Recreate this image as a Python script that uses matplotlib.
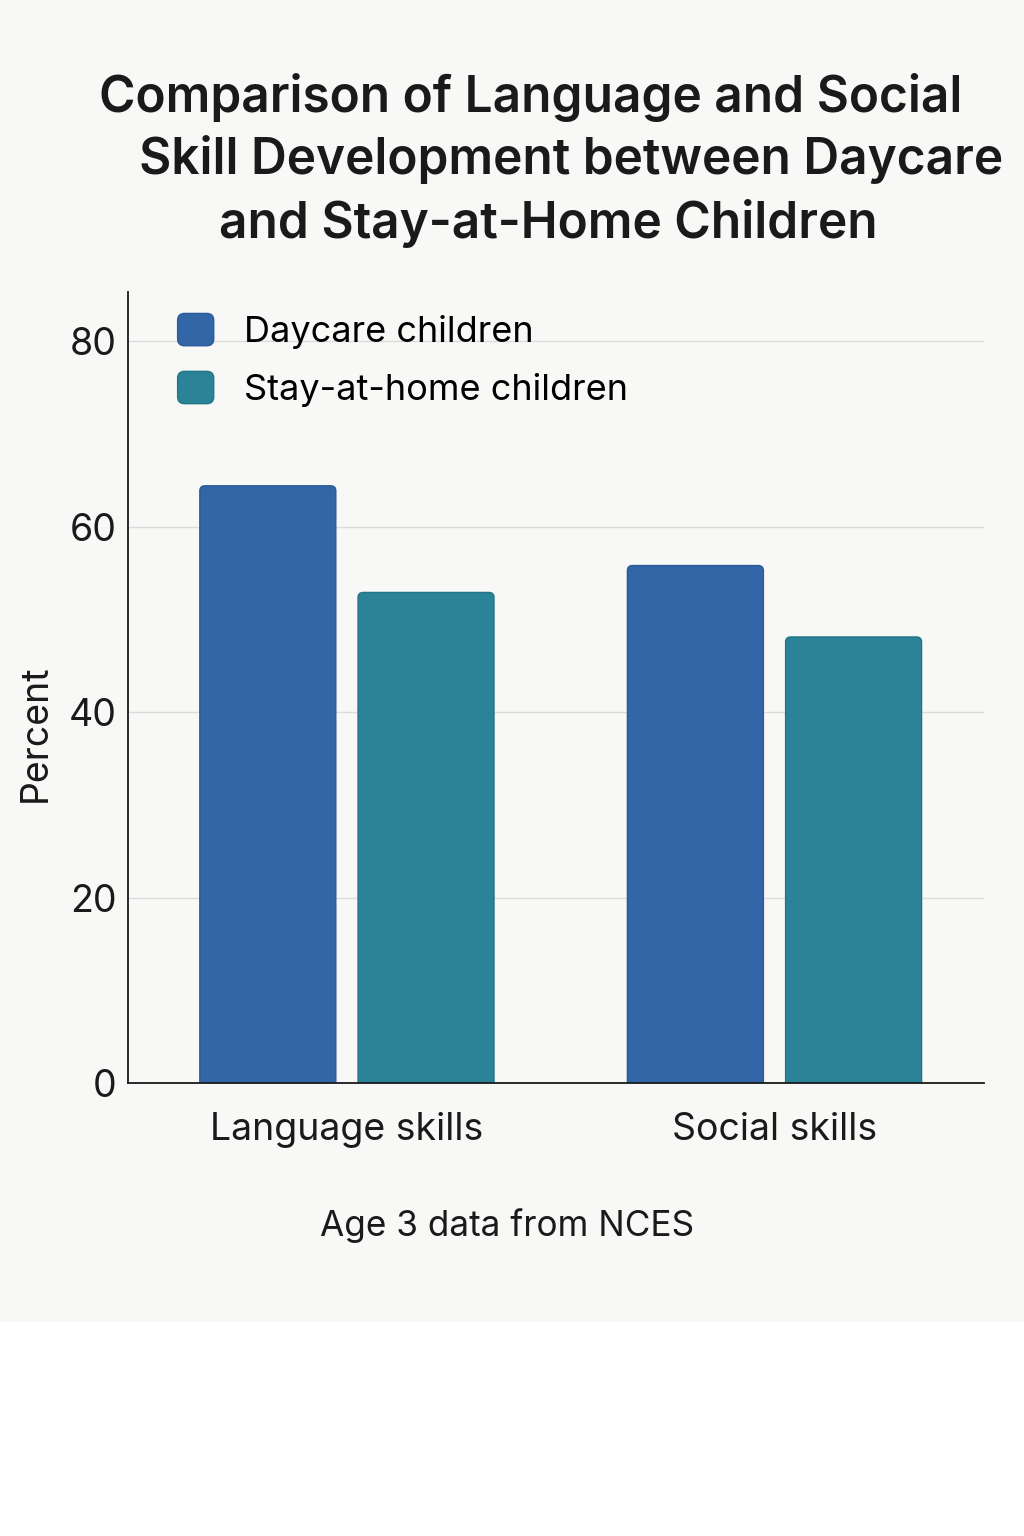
import numpy as np
import matplotlib
matplotlib.use("Agg")
import matplotlib.pyplot as plt
from matplotlib.patches import Rectangle, FancyBboxPatch, Patch
from matplotlib.legend_handler import HandlerPatch

plt.rcParams['font.family'] = ['Inter', 'DejaVu Sans']

categories = ['Language skills', 'Social skills']
series = ['Daycare children', 'Stay-at-home children']
daycare = [64.4, 55.8]
stay_home = [52.9, 48.1]
yticks = [0, 20, 40, 60, 80]
title_lines = ['Comparison of Language and Social',
               'Skill Development between Daycare',
               'and Stay-at-Home Children']

c_day = '#3266a6'
c_home = '#2a8397'
edge_day = '#2a5a98'
edge_home = '#247587'
bg = '#f8f8f7'

fig = plt.figure(figsize=(10.24, 15.36), dpi=100, facecolor='white')
fig.patches.append(Rectangle((0, 1 - 1322 / 1536), 1, 1322 / 1536,
                             transform=fig.transFigure, facecolor=bg,
                             edgecolor='none', zorder=-10))

ax = fig.add_axes([128 / 1024, 1 - 1083 / 1536, 856 / 1024, 791 / 1536])
ax.set_facecolor(bg)

x = np.arange(len(categories))
w = 0.318
off = 0.185
b1 = ax.bar(x - off, daycare, w, color=c_day, zorder=3)
b2 = ax.bar(x + off, stay_home, w, color=c_home, zorder=3)

# swap the plain bars for ones with rounded tops
for bars, fc, ec in [(b1, c_day, edge_day), (b2, c_home, edge_home)]:
    for p in bars:
        x0, y0 = p.get_x(), p.get_y()
        bw, bh = p.get_width(), p.get_height()
        p.set_visible(False)
        fb = FancyBboxPatch((x0, y0 - 3), bw, bh + 3,
                            boxstyle='round,pad=0,rounding_size=0.012',
                            mutation_aspect=45, facecolor=fc, edgecolor=ec,
                            linewidth=1, zorder=3)
        ax.add_patch(fb)

ax.set_xlim(-0.512, 1.49)
ax.set_ylim(0, 85.3)
ax.set_yticks(yticks)
ax.set_xticks(x)
ax.set_xticklabels(categories)
ax.tick_params(axis='both', length=0, labelsize=27, colors='#1a1a1a')
ax.tick_params(axis='x', pad=21)
ax.tick_params(axis='y', pad=8)
ax.grid(axis='y', color='#dcdcdc', linewidth=1, zorder=0)
for s in ['top', 'right']:
    ax.spines[s].set_visible(False)
for s in ['left', 'bottom']:
    ax.spines[s].set_color('#1a1a1a')
    ax.spines[s].set_linewidth(1.3)
    ax.spines[s].set_zorder(4)

ax.set_ylabel('Percent', fontsize=27, color='#1a1a1a')
ax.yaxis.set_label_coords(-0.087, 0.4425)


def rounded_handle(xdescent, ydescent, width, height, **kw):
    return FancyBboxPatch((-xdescent, -ydescent), width, height,
                          boxstyle='round,pad=0,rounding_size=5')


handles = [Patch(facecolor=c_day, edgecolor=edge_day),
           Patch(facecolor=c_home, edgecolor=edge_home)]
leg = ax.legend(handles, series, loc='upper left',
                bbox_to_anchor=(0.02, 1.014), frameon=False,
                fontsize=26, handlelength=1.0, handleheight=1.0,
                handletextpad=0.85, labelspacing=0.62,
                handler_map={Patch: HandlerPatch(patch_func=rounded_handle)})

for txt, cx, cy in zip(title_lines, [531, 571, 548], [97, 160, 223]):
    fig.text(cx / 1024, 1 - cy / 1536, txt, ha='center', va='center',
             fontsize=35.7, fontweight='semibold', color='#1a1a1a')

fig.text(507 / 1024, 1 - 1226 / 1536, 'Age 3 data from NCES', ha='center',
         va='center', fontsize=25.3, color='#1a1a1a')

fig.savefig('out.png', dpi=100, facecolor='white')
